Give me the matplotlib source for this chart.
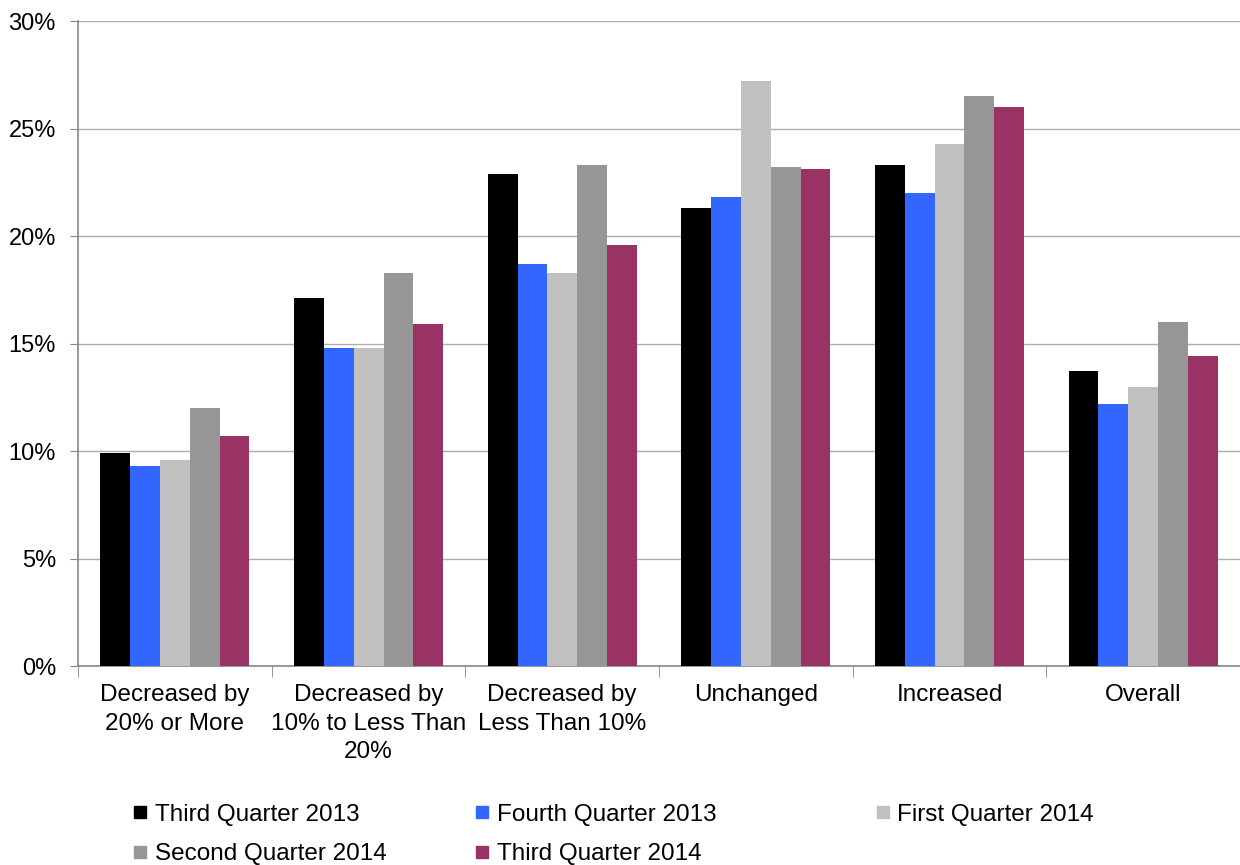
import numpy as np
import matplotlib
matplotlib.use("Agg")
import matplotlib.pyplot as plt
from matplotlib.lines import Line2D

plt.rcParams["font.family"] = ["Liberation Sans", "DejaVu Sans"]

categories = [
    "Decreased by\n20% or More",
    "Decreased by\n10% to Less Than\n20%",
    "Decreased by\nLess Than 10%",
    "Unchanged",
    "Increased",
    "Overall",
]

series_names = [
    "Third Quarter 2013",
    "Fourth Quarter 2013",
    "First Quarter 2014",
    "Second Quarter 2014",
    "Third Quarter 2014",
]

q3_2013 = [9.9, 17.1, 22.9, 21.3, 23.3, 13.7]
q4_2013 = [9.3, 14.8, 18.7, 21.8, 22.0, 12.2]
q1_2014 = [9.6, 14.8, 18.3, 27.2, 24.3, 13.0]
q2_2014 = [12.0, 18.3, 23.3, 23.2, 26.5, 16.0]
q3_2014 = [10.7, 15.9, 19.6, 23.1, 26.0, 14.4]

colors = ["#000000", "#3366FF", "#C0C0C0", "#969696", "#993366"]

all_series = [q3_2013, q4_2013, q1_2014, q2_2014, q3_2014]

fig = plt.figure(figsize=(12.4, 8.65), dpi=100)
ax = fig.add_axes([0.063, 0.230, 0.937, 0.7457])

x = np.arange(len(categories))
w = 0.154

for i, vals in enumerate(all_series):
    ax.bar(
        x + (i - 2) * w,
        vals,
        width=w,
        color=colors[i],
        zorder=3
    )

ax.set_xlim(-0.5, 5.5)
ax.set_ylim(0, 30)
ax.set_yticks(np.arange(0, 31, 5))
ax.set_yticklabels([f"{v}%" for v in range(0, 31, 5)], fontsize=17)

ax.set_xticks(x)
ax.set_xticklabels(categories, fontsize=17.5, linespacing=1.38)
ax.set_xticks(np.arange(-0.5, 6, 1), minor=True)
ax.tick_params(axis="x", which="major", length=0, pad=13)
ax.tick_params(axis="x", which="minor", length=8, color="#868686", direction="out")
ax.tick_params(axis="y", length=6, color="#868686", pad=10)

ax.yaxis.grid(True, color="#ADADAD", linewidth=1, zorder=0)
ax.set_axisbelow(True)

for side in ["top", "right"]:
    ax.spines[side].set_visible(False)
for side in ["left", "bottom"]:
    ax.spines[side].set_color("#868686")
    ax.spines[side].set_linewidth(1.2)

# legend: three columns placed by hand
cols = [[0, 3], [1, 4], [2]]
col_x = [0.107, 0.383, 0.706]
for cx, idxs in zip(col_x, cols):
    handles = [
        Line2D([], [], marker="s", ls="", color=colors[k], markersize=8)
        for k in idxs
    ]
    labels = [series_names[k] for k in idxs]
    fig.legend(
        handles,
        labels,
        loc="upper left",
        bbox_to_anchor=(cx, 0.071),
        frameon=False,
        fontsize=17.5,
        handlelength=0.6,
        handletextpad=0.3,
        borderpad=0,
        borderaxespad=0,
        labelspacing=0.72,
    )

fig.savefig("out.png", dpi=100)
plt.close()
